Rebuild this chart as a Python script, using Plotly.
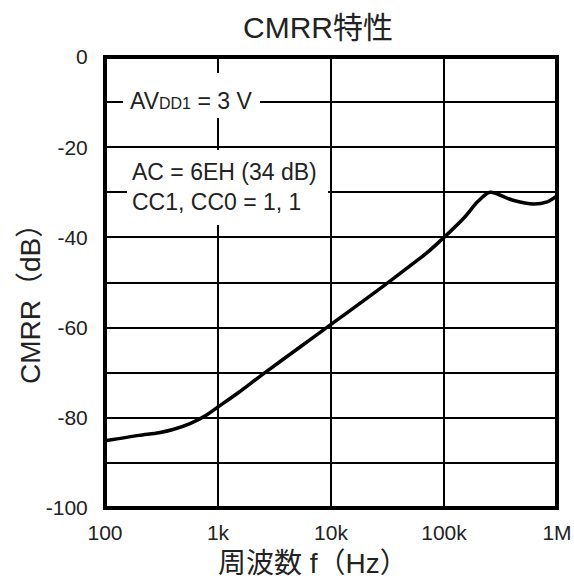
import plotly.graph_objects as go

# ---- data ----
freq_hz = [100, 200, 300, 400, 565, 800, 1000, 1500, 2500, 5000, 10000, 20000, 31300,
           50000, 70000, 100000, 150000, 200000, 255000, 400000, 620000, 820000, 1000000]
cmrr_db = [-85.1, -83.9, -83.3, -82.6, -81.3, -79.3, -77.6, -74.5, -70.3, -64.8, -59.3, -53.8, -50.2,
           -46.3, -43.5, -40.0, -35.7, -32.0, -30.0, -31.7, -32.6, -32.1, -30.8]

x_tick_vals = [100, 1000, 10000, 100000, 1000000]
x_tick_text = ["100", "1k", "10k", "100k", "1M"]
y_tick_vals = [0, -10, -20, -30, -40, -50, -60, -70, -80, -90, -100]
y_tick_text = ["0", "", "-20", "", "-40", "", "-60", "", "-80", "", "-100"]

title_text = "CMRR特性"
x_title = "周波数 f（Hz）"
y_title = "CMRR（dB）"
note1 = 'AV<span style="font-size:16px">DD1</span> = 3 V'
note2 = "AC = 6EH (34 dB)<br>CC1, CC0 = 1, 1"

FONT = "Liberation Sans, Arial, Noto Sans CJK JP, sans-serif"

W, H = 574, 585
L, R, T, B = 105, 17, 57, 77
pw, ph = W - L - R, H - T - B

def px(xp):
    return (xp - L) / pw

def py(yp):
    return 1 - (yp - T) / ph

fig = go.Figure()
fig.add_trace(go.Scatter(
    x=freq_hz, y=cmrr_db, mode="lines",
    line=dict(color="black", width=3.5, shape="spline", smoothing=0.8),
    hoverinfo="skip", showlegend=False))

shapes = [
    dict(type="rect", xref="paper", yref="paper", x0=px(123), x1=px(260), y0=py(118), y1=py(73),
         fillcolor="white", line=dict(width=0), layer="above"),
    dict(type="rect", xref="paper", yref="paper", x0=px(127), x1=px(328), y0=py(225), y1=py(150),
         fillcolor="white", line=dict(width=0), layer="above"),
    dict(type="rect", xref="paper", yref="paper", x0=0, x1=1, y0=0, y1=1,
         line=dict(color="black", width=4), fillcolor="rgba(0,0,0,0)", layer="above"),
]

annotations = [
    dict(text=note1, xref="paper", yref="paper", x=px(128), y=py(101), xanchor="left", yanchor="middle",
         showarrow=False, font=dict(family=FONT, size=23, color="#222")),
    dict(text=note2, xref="paper", yref="paper", x=px(130), y=py(187), xanchor="left", yanchor="middle",
         showarrow=False, align="left", font=dict(family=FONT, size=23, color="#222")),
    dict(text=x_title, xref="paper", yref="paper", x=px(313), y=py(563), xanchor="center", yanchor="middle",
         showarrow=False, font=dict(family=FONT, size=28, color="#222")),
    dict(text=y_title, xref="paper", yref="paper", x=px(30), y=py(297), xanchor="center", yanchor="middle",
         textangle=-90, showarrow=False, font=dict(family=FONT, size=28, color="#222")),
]

fig.update_layout(
    width=W, height=H,
    margin=dict(l=L, r=R, t=T, b=B, pad=0),
    paper_bgcolor="white", plot_bgcolor="white",
    font=dict(family=FONT, color="#222"),
    title=dict(text=title_text, xref="container", yref="container", x=318 / W, xanchor="center",
               y=1 - 27 / H, yanchor="middle",
               font=dict(family=FONT, size=30, color="#222")),
    shapes=shapes, annotations=annotations,
    xaxis=dict(type="log", range=[2, 6], tickvals=x_tick_vals, ticktext=x_tick_text,
               showgrid=True, gridcolor="black", gridwidth=1.5, zeroline=False, automargin=False,
               ticks="outside", ticklen=6, tickcolor="rgba(0,0,0,0)",
               tickfont=dict(family=FONT, size=21, color="#222")),
    yaxis=dict(range=[-100, 0], tickvals=y_tick_vals, ticktext=y_tick_text,
               showgrid=True, gridcolor="black", gridwidth=1.5, zeroline=False, automargin=False,
               ticks="outside", ticklen=12, tickcolor="rgba(0,0,0,0)",
               tickfont=dict(family=FONT, size=21, color="#222")),
)

fig.write_html("out.html")
